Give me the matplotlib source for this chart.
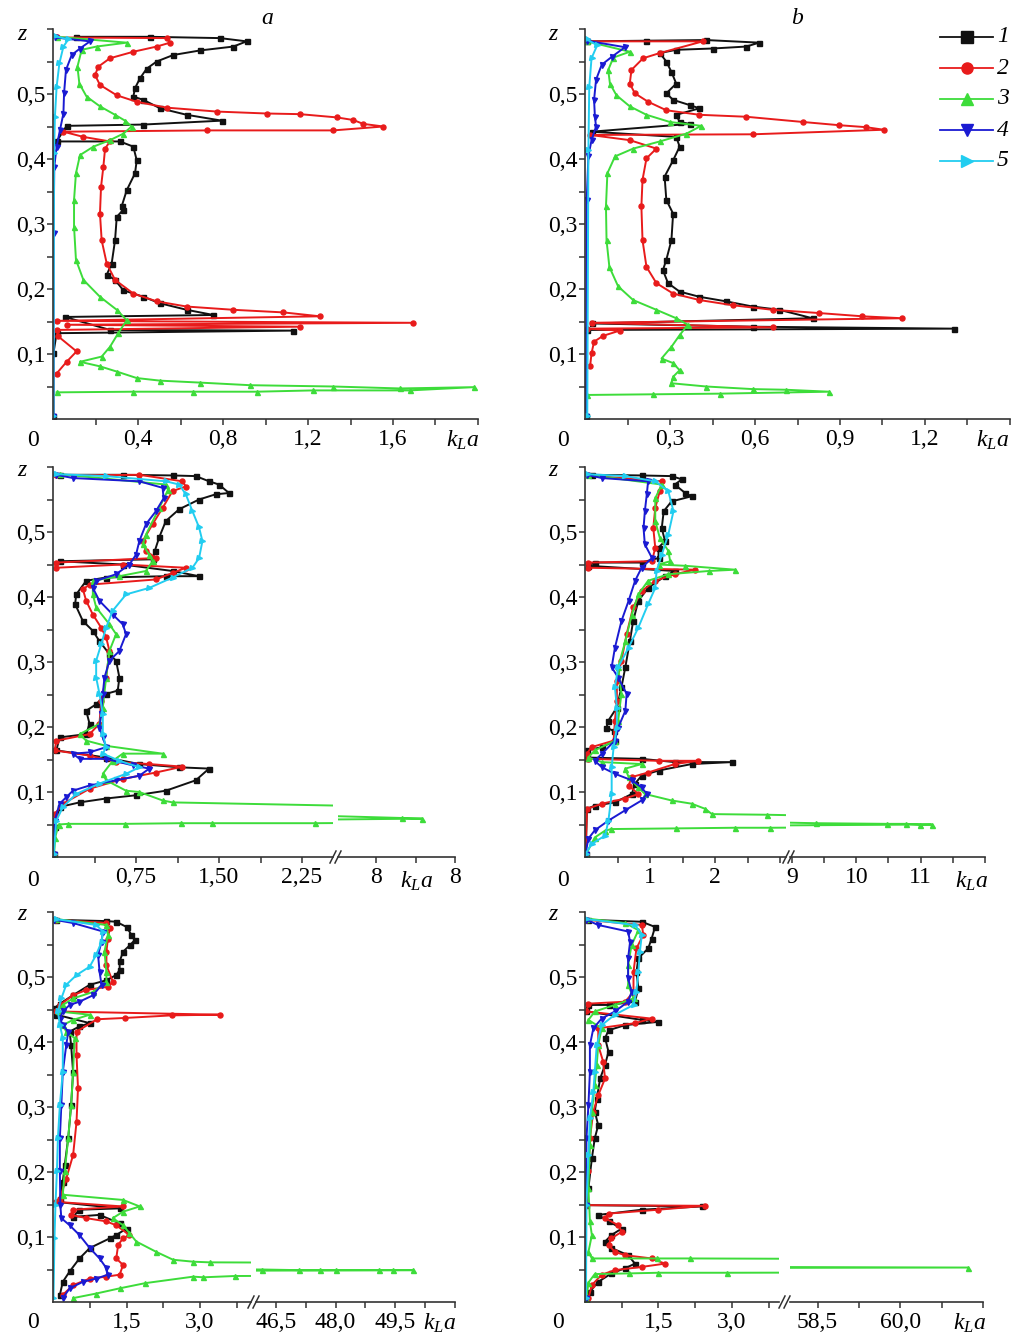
import numpy as np
import matplotlib.pyplot as plt
from matplotlib.lines import Line2D

plt.rcParams['font.family'] = ['Liberation Serif', 'DejaVu Serif']
plt.rcParams['mathtext.fontset'] = 'custom'
plt.rcParams['mathtext.rm'] = 'Liberation Serif'
plt.rcParams['mathtext.it'] = 'Liberation Serif:italic'

# panel a (top left)
a1 = [(0.11, 0.588), (0.456, 0.588), (0.786, 0.586), (0.911, 0.581), (0.849, 0.573), (0.692, 0.567),
      (0.566, 0.560), (0.488, 0.550), (0.441, 0.539), (0.409, 0.524), (0.386, 0.509), (0.378, 0.496),
      (0.425, 0.491), (0.504, 0.478), (0.629, 0.468), (0.794, 0.459), (0.425, 0.453), (0.064, 0.451),
      (0.017, 0.427), (0.315, 0.427), (0.378, 0.419), (0.394, 0.398), (0.386, 0.378), (0.347, 0.352),
      (0.323, 0.327), (0.331, 0.322), (0.300, 0.311), (0.292, 0.275), (0.276, 0.239), (0.253, 0.222),
      (0.292, 0.214), (0.331, 0.198), (0.425, 0.188), (0.504, 0.178), (0.629, 0.168), (0.755, 0.160),
      (0.056, 0.157), (0.268, 0.137), (1.131, 0.136), (0.017, 0.132), (0.002, 0.101), (0.002, 0.004)]
a2 = [(0.017, 0.587), (0.535, 0.586), (0.551, 0.579), (0.488, 0.573), (0.378, 0.565), (0.268, 0.555),
      (0.213, 0.542), (0.198, 0.529), (0.221, 0.514), (0.300, 0.498), (0.394, 0.488), (0.535, 0.479),
      (0.770, 0.473), (1.005, 0.470), (1.162, 0.469), (1.335, 0.464), (1.413, 0.460), (1.460, 0.454),
      (1.555, 0.450), (1.319, 0.444), (0.723, 0.444), (0.049, 0.442), (0.143, 0.434), (0.268, 0.427),
      (0.245, 0.416), (0.237, 0.388), (0.226, 0.357), (0.221, 0.316), (0.229, 0.275), (0.253, 0.239),
      (0.292, 0.214), (0.378, 0.193), (0.488, 0.181), (0.629, 0.173), (0.849, 0.168), (1.084, 0.164),
      (1.256, 0.158), (0.017, 0.151), (1.696, 0.148), (0.064, 0.145), (1.162, 0.142), (0.017, 0.137),
      (0.025, 0.127), (0.111, 0.104), (0.064, 0.088), (0.017, 0.070)]
a3 = [(0.017, 0.588), (0.347, 0.579), (0.205, 0.573), (0.135, 0.568), (0.115, 0.542), (0.124, 0.516),
      (0.158, 0.496), (0.221, 0.481), (0.292, 0.468), (0.339, 0.459), (0.370, 0.450), (0.331, 0.439),
      (0.268, 0.429), (0.190, 0.419), (0.127, 0.406), (0.108, 0.378), (0.099, 0.337), (0.099, 0.296),
      (0.108, 0.245), (0.143, 0.214), (0.221, 0.188), (0.300, 0.168), (0.347, 0.152), (0.307, 0.132),
      (0.268, 0.111), (0.229, 0.096), (0.127, 0.088), (0.221, 0.081), (0.300, 0.073), (0.394, 0.063),
      (0.504, 0.059), (0.692, 0.056), (0.927, 0.052), (1.319, 0.050), (1.633, 0.047), (1.98, 0.049),
      (1.680, 0.044), (1.225, 0.044), (0.958, 0.042), (0.660, 0.042), (0.378, 0.042), (0.017, 0.041)]
a4 = [(0.009, 0.587), (0.174, 0.581), (0.127, 0.570), (0.088, 0.560), (0.061, 0.537), (0.052, 0.501),
      (0.049, 0.470), (0.033, 0.445), (0.017, 0.419), (0.006, 0.388), (0.003, 0.286), (0.002, 0.004)]
a5 = [(0.009, 0.589), (0.072, 0.584), (0.049, 0.573), (0.030, 0.547), (0.017, 0.511), (0.009, 0.465),
      (0.005, 0.409), (0.002, 0.004)]

# panel b (top right)
b1 = [(0.006, 0.581), (0.217, 0.582), (0.428, 0.583), (0.615, 0.579), (0.569, 0.573), (0.451, 0.570),
      (0.322, 0.568), (0.264, 0.563), (0.287, 0.550), (0.305, 0.534), (0.322, 0.516), (0.287, 0.501),
      (0.311, 0.491), (0.369, 0.483), (0.404, 0.478), (0.322, 0.468), (0.334, 0.457), (0.369, 0.454),
      (0.023, 0.442), (0.322, 0.434), (0.334, 0.419), (0.311, 0.398), (0.281, 0.373), (0.287, 0.337),
      (0.311, 0.316), (0.305, 0.275), (0.287, 0.245), (0.275, 0.229), (0.293, 0.209), (0.334, 0.196),
      (0.404, 0.188), (0.498, 0.181), (0.592, 0.173), (0.686, 0.168), (0.803, 0.155), (0.023, 0.147),
      (0.592, 0.142), (1.301, 0.139), (0.006, 0.137), (0.004, 0.004)]
b2 = [(0.006, 0.581), (0.416, 0.581), (0.264, 0.563), (0.205, 0.555), (0.164, 0.537), (0.158, 0.516),
      (0.176, 0.501), (0.223, 0.488), (0.287, 0.475), (0.404, 0.468), (0.569, 0.465), (0.768, 0.457),
      (0.897, 0.452), (0.991, 0.449), (1.055, 0.445), (0.592, 0.438), (0.018, 0.437), (0.158, 0.429),
      (0.252, 0.416), (0.217, 0.401), (0.203, 0.368), (0.199, 0.327), (0.203, 0.275), (0.217, 0.234),
      (0.252, 0.209), (0.311, 0.193), (0.404, 0.183), (0.522, 0.175), (0.662, 0.168), (0.826, 0.163),
      (0.979, 0.158), (1.120, 0.155), (0.023, 0.148), (0.662, 0.141), (0.006, 0.139), (0.123, 0.136),
      (0.064, 0.128), (0.032, 0.119), (0.023, 0.101), (0.018, 0.081)]
b3 = [(0.006, 0.581), (0.158, 0.565), (0.100, 0.556), (0.082, 0.537), (0.088, 0.516), (0.111, 0.498),
      (0.158, 0.481), (0.217, 0.468), (0.299, 0.457), (0.410, 0.451), (0.358, 0.439), (0.264, 0.427),
      (0.170, 0.416), (0.106, 0.404), (0.079, 0.378), (0.074, 0.327), (0.076, 0.275), (0.086, 0.234),
      (0.117, 0.204), (0.170, 0.183), (0.252, 0.168), (0.322, 0.155), (0.363, 0.145), (0.334, 0.129),
      (0.305, 0.111), (0.270, 0.093), (0.311, 0.086), (0.334, 0.075), (0.311, 0.065), (0.305, 0.055),
      (0.428, 0.050), (0.592, 0.046), (0.709, 0.045), (0.862, 0.042), (0.475, 0.039), (0.240, 0.038),
      (0.006, 0.037)]
b4 = [(0.006, 0.582), (0.141, 0.572), (0.094, 0.557), (0.059, 0.545), (0.039, 0.522), (0.032, 0.491),
      (0.035, 0.465), (0.039, 0.450), (0.023, 0.429), (0.012, 0.404), (0.006, 0.337), (0.004, 0.004)]
b5 = [(0.006, 0.584), (0.043, 0.575), (0.023, 0.555), (0.015, 0.511), (0.012, 0.414), (0.008, 0.004)]

# panel c (middle left, broken axis)
c1 = [(0.06, 0.588), (0.63, 0.588), (1.08, 0.587), (1.29, 0.586), (1.41, 0.578), (1.50, 0.573),
      (1.59, 0.560), (1.47, 0.558), (1.32, 0.550), (1.14, 0.535), (1.02, 0.517), (0.96, 0.492),
      (0.92, 0.471), (0.90, 0.458), (0.06, 0.455), (0.63, 0.450), (1.08, 0.440), (1.32, 0.432),
      (1.02, 0.432), (0.48, 0.430), (0.30, 0.425), (0.21, 0.404), (0.20, 0.389), (0.27, 0.363),
      (0.36, 0.348), (0.42, 0.332), (0.51, 0.312), (0.57, 0.302), (0.60, 0.276), (0.585, 0.256),
      (0.48, 0.251), (0.39, 0.235), (0.30, 0.225), (0.33, 0.205), (0.30, 0.189), (0.06, 0.184),
      (0.03, 0.164), (0.48, 0.153), (0.78, 0.143), (1.14, 0.138), (1.41, 0.136), (1.29, 0.118),
      (1.02, 0.102), (0.75, 0.095), (0.48, 0.090), (0.24, 0.084), (0.06, 0.077), (0.015, 0.046),
      (0.006, 0.005)]
c2 = [(0.03, 0.587), (0.78, 0.588), (1.17, 0.578), (1.20, 0.570), (1.08, 0.563), (0.99, 0.537),
      (0.90, 0.512), (0.81, 0.486), (0.84, 0.471), (0.93, 0.460), (0.03, 0.453), (0.03, 0.445),
      (0.63, 0.450), (1.20, 0.445), (1.08, 0.437), (0.93, 0.427), (0.33, 0.419), (0.27, 0.412),
      (0.30, 0.394), (0.36, 0.373), (0.435, 0.353), (0.48, 0.338), (0.51, 0.317), (0.48, 0.276),
      (0.435, 0.240), (0.42, 0.205), (0.33, 0.189), (0.03, 0.179), (0.015, 0.164), (0.33, 0.156),
      (0.57, 0.146), (0.87, 0.143), (1.17, 0.139), (0.93, 0.130), (0.63, 0.120), (0.33, 0.105),
      (0.09, 0.082), (0.015, 0.066), (0.006, 0.005)]
c3 = [(0.06, 0.589), (1.02, 0.573), (1.04, 0.565), (0.96, 0.537), (0.84, 0.496), (0.81, 0.481),
      (0.87, 0.465), (0.90, 0.455), (0.84, 0.440), (0.60, 0.432), (0.36, 0.425), (0.36, 0.404),
      (0.39, 0.384), (0.51, 0.358), (0.57, 0.343), (0.51, 0.317), (0.48, 0.276), (0.45, 0.230),
      (0.42, 0.205), (0.24, 0.189), (0.30, 0.179), (0.48, 0.171), (0.99, 0.159), (0.63, 0.159),
      (0.54, 0.148), (0.45, 0.128), (0.48, 0.118), (0.66, 0.102), (0.78, 0.100), (0.99, 0.087),
      (1.08, 0.084), (8.33, 0.060), (8.58, 0.059), (2.37, 0.052), (1.44, 0.052), (1.16, 0.052),
      (0.65, 0.051), (0.135, 0.051), (0.05, 0.050), (0.02, 0.030), (0.01, 0.005)]
c4 = [(0.03, 0.588), (0.18, 0.583), (0.78, 0.578), (0.99, 0.568), (1.00, 0.552), (0.93, 0.532),
      (0.84, 0.512), (0.78, 0.486), (0.75, 0.465), (0.69, 0.450), (0.57, 0.435), (0.39, 0.425),
      (0.36, 0.414), (0.42, 0.394), (0.54, 0.373), (0.63, 0.358), (0.66, 0.343), (0.60, 0.317),
      (0.51, 0.302), (0.465, 0.276), (0.45, 0.251), (0.435, 0.220), (0.42, 0.199), (0.45, 0.184),
      (0.48, 0.169), (0.33, 0.161), (0.18, 0.159), (0.24, 0.151), (0.48, 0.151), (0.72, 0.141),
      (0.87, 0.136), (0.78, 0.125), (0.57, 0.118), (0.33, 0.110), (0.18, 0.102), (0.12, 0.092),
      (0.06, 0.082), (0.015, 0.056), (0.006, 0.005)]
c5 = [(0.03, 0.589), (0.48, 0.586), (1.02, 0.578), (1.14, 0.573), (1.20, 0.558), (1.26, 0.532),
      (1.32, 0.507), (1.35, 0.486), (1.32, 0.460), (1.26, 0.445), (1.08, 0.430), (0.87, 0.414),
      (0.66, 0.404), (0.54, 0.379), (0.48, 0.353), (0.435, 0.327), (0.39, 0.302), (0.39, 0.276),
      (0.42, 0.251), (0.45, 0.220), (0.45, 0.189), (0.48, 0.169), (0.45, 0.159), (0.60, 0.148),
      (0.78, 0.138), (0.66, 0.128), (0.42, 0.113), (0.21, 0.097), (0.09, 0.077), (0.03, 0.056),
      (0.006, 0.005)]

# panel d (middle right, broken axis)
d1 = [(0.10, 0.588), (0.87, 0.587), (1.33, 0.586), (1.49, 0.581), (1.38, 0.573), (1.54, 0.560),
      (1.64, 0.555), (1.33, 0.547), (1.21, 0.532), (1.18, 0.506), (1.23, 0.486), (1.13, 0.476),
      (1.13, 0.460), (0.87, 0.453), (0.15, 0.453), (0.05, 0.448), (1.38, 0.440), (1.23, 0.432),
      (0.97, 0.414), (0.82, 0.394), (0.74, 0.363), (0.69, 0.332), (0.62, 0.292), (0.56, 0.261),
      (0.49, 0.230), (0.36, 0.210), (0.33, 0.199), (0.44, 0.194), (0.46, 0.179), (0.26, 0.169),
      (0.03, 0.164), (0.03, 0.153), (0.87, 0.151), (1.38, 0.146), (2.26, 0.146), (1.64, 0.143),
      (1.13, 0.133), (0.87, 0.125), (0.77, 0.113), (0.72, 0.097), (0.46, 0.084), (0.15, 0.079),
      (0.03, 0.074), (0.01, 0.005)]
d2 = [(0.05, 0.587), (1.18, 0.578), (1.15, 0.563), (1.08, 0.537), (1.05, 0.506), (1.08, 0.476),
      (1.03, 0.455), (0.05, 0.453), (0.05, 0.445), (1.69, 0.442), (1.38, 0.435), (1.08, 0.425),
      (0.87, 0.409), (0.74, 0.384), (0.64, 0.343), (0.56, 0.302), (0.49, 0.271), (0.49, 0.240),
      (0.46, 0.210), (0.44, 0.179), (0.10, 0.169), (0.03, 0.159), (0.05, 0.151), (1.13, 0.148),
      (1.74, 0.148), (1.38, 0.143), (0.97, 0.130), (0.72, 0.123), (0.67, 0.110), (0.82, 0.097),
      (0.62, 0.090), (0.26, 0.082), (0.03, 0.074), (0.01, 0.005)]
d3 = [(0.05, 0.588), (1.18, 0.573), (1.08, 0.552), (1.08, 0.517), (1.15, 0.491), (1.28, 0.471),
      (1.31, 0.455), (1.13, 0.450), (1.54, 0.448), (2.31, 0.442), (1.90, 0.440), (1.28, 0.435),
      (0.97, 0.425), (0.82, 0.404), (0.72, 0.373), (0.62, 0.332), (0.51, 0.292), (0.56, 0.251),
      (0.51, 0.210), (0.46, 0.179), (0.15, 0.164), (0.05, 0.153), (0.26, 0.146), (0.87, 0.143),
      (0.62, 0.136), (0.67, 0.123), (0.82, 0.107), (0.92, 0.097), (1.33, 0.087), (1.64, 0.082),
      (1.85, 0.074), (1.95, 0.066), (2.80, 0.065), (9.37, 0.052), (10.48, 0.051), (10.78, 0.051),
      (10.99, 0.050), (11.17, 0.050), (2.85, 0.045), (2.30, 0.045), (1.40, 0.044), (0.40, 0.043),
      (0.30, 0.040), (0.15, 0.030), (0.02, 0.005)]
d4 = [(0.03, 0.588), (0.26, 0.583), (0.97, 0.578), (0.95, 0.558), (0.92, 0.532), (0.90, 0.506),
      (0.92, 0.481), (1.03, 0.460), (0.87, 0.445), (0.77, 0.425), (0.67, 0.394), (0.56, 0.363),
      (0.46, 0.322), (0.41, 0.292), (0.51, 0.276), (0.64, 0.251), (0.62, 0.225), (0.51, 0.199),
      (0.46, 0.179), (0.26, 0.159), (0.15, 0.148), (0.26, 0.138), (0.46, 0.128), (0.72, 0.118),
      (0.87, 0.107), (0.95, 0.097), (0.87, 0.087), (0.62, 0.072), (0.36, 0.056), (0.15, 0.041),
      (0.05, 0.028), (0.01, 0.005)]
d5 = [(0.03, 0.589), (0.62, 0.586), (1.08, 0.578), (1.28, 0.563), (1.36, 0.532), (1.28, 0.496),
      (1.18, 0.465), (1.10, 0.440), (1.08, 0.414), (0.97, 0.389), (0.82, 0.353), (0.67, 0.322),
      (0.51, 0.292), (0.46, 0.261), (0.49, 0.230), (0.49, 0.199), (0.44, 0.169), (0.41, 0.138),
      (0.41, 0.097), (0.36, 0.056), (0.31, 0.033), (0.10, 0.020), (0.01, 0.005)]

# panel e (bottom left, broken axis)
e1 = [(0.07, 0.588), (1.09, 0.586), (1.29, 0.585), (1.50, 0.577), (1.60, 0.565), (1.67, 0.557),
      (1.57, 0.549), (1.43, 0.539), (1.36, 0.524), (1.36, 0.511), (1.29, 0.503), (1.09, 0.495),
      (0.75, 0.488), (0.41, 0.472), (0.14, 0.459), (0.03, 0.452), (0.07, 0.442), (0.75, 0.429),
      (0.54, 0.424), (0.34, 0.416), (0.37, 0.395), (0.41, 0.354), (0.37, 0.303), (0.31, 0.252),
      (0.24, 0.211), (0.20, 0.185), (0.14, 0.159), (0.07, 0.154), (1.36, 0.144), (0.54, 0.142),
      (0.41, 0.131), (0.95, 0.134), (1.36, 0.121), (1.50, 0.113), (1.29, 0.103), (1.16, 0.098),
      (0.75, 0.083), (0.54, 0.067), (0.34, 0.047), (0.20, 0.031), (0.14, 0.011)]
e2 = [(0.07, 0.588), (1.09, 0.583), (1.16, 0.575), (1.12, 0.559), (1.09, 0.539), (1.09, 0.518),
      (1.22, 0.493), (1.12, 0.485), (0.68, 0.480), (0.41, 0.472), (0.14, 0.457), (0.07, 0.447),
      (3.40, 0.442), (2.43, 0.441), (1.47, 0.437), (0.90, 0.435), (0.48, 0.416), (0.48, 0.380),
      (0.51, 0.329), (0.48, 0.277), (0.41, 0.226), (0.27, 0.190), (0.14, 0.159), (0.07, 0.154),
      (1.43, 0.147), (0.41, 0.142), (0.37, 0.134), (0.68, 0.129), (1.09, 0.124), (1.29, 0.118),
      (1.56, 0.103), (1.43, 0.098), (1.33, 0.088), (1.29, 0.067), (1.43, 0.057), (1.36, 0.042),
      (1.09, 0.039), (0.75, 0.036), (0.41, 0.026), (0.20, 0.011)]
e3 = [(0.07, 0.589), (1.09, 0.580), (1.12, 0.565), (1.05, 0.539), (1.09, 0.508), (1.09, 0.493),
      (0.82, 0.477), (0.41, 0.467), (0.20, 0.457), (0.10, 0.447), (0.75, 0.442), (0.41, 0.434),
      (0.20, 0.426), (0.27, 0.416), (0.44, 0.406), (0.41, 0.354), (0.37, 0.303), (0.31, 0.252),
      (0.24, 0.201), (0.20, 0.165), (1.43, 0.157), (1.77, 0.147), (1.43, 0.139), (1.22, 0.129),
      (1.43, 0.118), (1.56, 0.106), (1.70, 0.093), (2.11, 0.077), (2.45, 0.065), (2.86, 0.062),
      (3.20, 0.061), (46.15, 0.050), (47.08, 0.049), (47.60, 0.049), (48.00, 0.049), (49.08, 0.049),
      (49.45, 0.049), (49.95, 0.049), (3.71, 0.040), (3.07, 0.038), (2.86, 0.039), (1.88, 0.029),
      (1.36, 0.021), (0.88, 0.013), (0.41, 0.006)]
e4 = [(0.03, 0.588), (0.41, 0.583), (1.02, 0.570), (0.99, 0.554), (0.92, 0.534), (0.95, 0.508),
      (0.99, 0.488), (0.82, 0.472), (0.54, 0.462), (0.34, 0.457), (0.20, 0.447), (0.14, 0.436),
      (0.20, 0.426), (0.31, 0.416), (0.27, 0.395), (0.20, 0.354), (0.17, 0.303), (0.14, 0.252),
      (0.14, 0.201), (0.15, 0.149), (0.17, 0.129), (0.34, 0.118), (0.54, 0.103), (0.75, 0.083),
      (0.95, 0.067), (1.09, 0.052), (1.12, 0.042), (0.88, 0.036), (0.61, 0.031), (0.34, 0.021),
      (0.20, 0.006)]
e5 = [(0.07, 0.589), (0.88, 0.580), (1.02, 0.570), (0.99, 0.554), (0.88, 0.534), (0.75, 0.516),
      (0.48, 0.503), (0.27, 0.488), (0.17, 0.467), (0.10, 0.447), (0.14, 0.426), (0.20, 0.406),
      (0.20, 0.354), (0.14, 0.303), (0.10, 0.252), (0.08, 0.201), (0.05, 0.149), (0.03, 0.098),
      (0.01, 0.006)]

# panel f (bottom right, broken axis)
f1 = [(0.07, 0.588), (1.16, 0.585), (1.43, 0.577), (1.36, 0.559), (1.29, 0.544), (1.09, 0.529),
      (1.05, 0.508), (1.09, 0.483), (1.02, 0.462), (0.48, 0.457), (0.07, 0.457), (0.03, 0.447),
      (1.16, 0.434), (1.50, 0.431), (0.82, 0.426), (0.48, 0.418), (0.41, 0.406), (0.48, 0.385),
      (0.41, 0.365), (0.31, 0.344), (0.24, 0.313), (0.20, 0.293), (0.27, 0.272), (0.20, 0.252),
      (0.14, 0.221), (0.07, 0.175), (0.03, 0.149), (2.38, 0.147), (1.16, 0.142), (0.27, 0.134),
      (0.48, 0.124), (0.75, 0.113), (0.54, 0.103), (0.41, 0.093), (0.54, 0.083), (0.88, 0.072),
      (1.02, 0.059), (0.82, 0.052), (0.54, 0.044), (0.27, 0.031), (0.10, 0.016), (0.03, 0.003)]
f2 = [(0.03, 0.588), (1.16, 0.580), (1.19, 0.565), (1.05, 0.544), (0.99, 0.508), (0.99, 0.477),
      (0.82, 0.462), (0.07, 0.459), (0.03, 0.447), (1.36, 0.436), (1.02, 0.429), (0.27, 0.421),
      (0.27, 0.395), (0.37, 0.370), (0.41, 0.344), (0.27, 0.318), (0.17, 0.293), (0.10, 0.252),
      (0.07, 0.201), (0.03, 0.149), (2.45, 0.148), (1.50, 0.142), (0.48, 0.136), (0.41, 0.129),
      (0.68, 0.118), (0.75, 0.108), (0.54, 0.098), (0.48, 0.088), (0.61, 0.077), (0.82, 0.072),
      (1.36, 0.067), (1.63, 0.059), (1.16, 0.054), (0.61, 0.049), (0.34, 0.042), (0.14, 0.026),
      (0.07, 0.006)]
f3 = [(0.03, 0.590), (0.82, 0.583), (1.09, 0.572), (0.95, 0.549), (0.88, 0.518), (0.88, 0.488),
      (0.99, 0.467), (0.61, 0.457), (0.20, 0.447), (0.07, 0.434), (0.34, 0.421), (0.27, 0.395),
      (0.24, 0.365), (0.20, 0.334), (0.14, 0.293), (0.10, 0.242), (0.07, 0.175), (0.10, 0.124),
      (0.14, 0.103), (0.07, 0.077), (0.14, 0.067), (1.47, 0.067), (2.14, 0.067), (61.23, 0.053),
      (2.90, 0.045), (1.50, 0.045), (0.90, 0.044), (0.20, 0.043), (0.07, 0.030), (0.03, 0.005)]
f4 = [(0.03, 0.588), (0.27, 0.580), (0.88, 0.570), (0.92, 0.554), (0.88, 0.529), (0.88, 0.498),
      (0.95, 0.477), (0.88, 0.462), (0.61, 0.447), (0.34, 0.436), (0.17, 0.421), (0.10, 0.395),
      (0.10, 0.354), (0.07, 0.303), (0.03, 0.252), (0.02, 0.149), (0.02, 0.006)]
f5 = [(0.03, 0.589), (1.02, 0.580), (1.16, 0.565), (1.12, 0.539), (1.09, 0.508), (1.05, 0.477),
      (0.99, 0.457), (0.61, 0.442), (0.34, 0.426), (0.24, 0.395), (0.20, 0.354), (0.17, 0.323),
      (0.10, 0.283), (0.07, 0.226), (0.03, 0.149), (0.02, 0.006)]

colors = ['#111111', '#e81b1b', '#3ddc3a', '#1a1ad2', '#22cdf0']
markers = ['s', 'o', '^', 'v', '>']
legend_names = ['1', '2', '3', '4', '5']

W, H = 1015, 1341
fig = plt.figure(figsize=(W / 100, H / 100), dpi=100)
FS = 17


def px(x, y):
    return x / W, 1 - y / H


def add_ax(x0, x1, y0, y1):
    return fig.add_axes([x0 / W, 1 - y1 / H, (x1 - x0) / W, (y1 - y0) / H])


def draw_curves(ax, series):
    for pts, c, m in zip(series, colors, markers):
        k = [p[0] for p in pts]
        z = [p[1] for p in pts]
        ax.plot(k, z, color=c, lw=1.4, marker=m, ms=3.6, mec=c, mfc=c)


yt = np.arange(0.05, 0.601, 0.05)
ylab = ['', '0,1', '', '0,2', '', '0,3', '', '0,4', '', '0,5', '', '']

# each panel: curves, y pixel range, segments (x pixel range, xlim, ticks, labels)
panels = [
    ([a1, a2, a3, a4, a5], (29, 419),
     [((53, 478), (0, 2.0), np.arange(0.2, 2.01, 0.2),
       ['', '0,4', '', '0,8', '', '1,2', '', '1,6', '', ''])]),
    ([b1, b2, b3, b4, b5], (29, 419),
     [((585, 1010), (0, 1.5), np.arange(0.15, 1.51, 0.15),
       ['', '0,3', '', '0,6', '', '0,9', '', '1,2', '', ''])]),
    ([c1, c2, c3, c4, c5], (467, 857),
     [((53, 333), (0, 2.53), np.arange(0.375, 2.3, 0.375), ['', '0,75', '', '1,50', '', '2,25']),
      ((338, 455), (7.51, 9.0), [8.0, 8.5, 9.0], ['8', '', '8'])]),
    ([d1, d2, d3, d4, d5], (467, 857),
     [((585, 786), (0, 3.09), np.arange(0.5, 3.01, 0.5), ['', '1', '', '2', '', '']),
      ((790, 985), (8.97, 12.0), np.arange(9.0, 12.01, 0.5), ['9', '', '10', '', '11', '', ''])]),
    ([e1, e2, e3, e4, e5], (912, 1302),
     [((53, 251), (0, 4.04), np.arange(0.75, 3.8, 0.75), ['', '1,5', '', '3,0', '']),
      ((256, 455), (46.0, 51.0), np.arange(46.5, 51.01, 0.75), ['46,5', '', '48,0', '', '49,5', '', ''])]),
    ([f1, f2, f3, f4, f5], (912, 1302),
     [((585, 779), (0, 3.96), np.arange(0.75, 3.8, 0.75), ['', '1,5', '', '3,0', '']),
      ((790, 983), (58.0, 61.5), np.arange(58.5, 61.51, 0.75), ['58,5', '', '60,0', '', ''])]),
]

for series, (y0, y1), segs in panels:
    for i, ((x0, x1), xl, ticks, labels) in enumerate(segs):
        ax = add_ax(x0, x1, y0, y1)
        draw_curves(ax, series)
        ax.set_xlim(*xl)
        ax.set_ylim(0, 0.6)
        ax.patch.set_alpha(0)
        for s in ['top', 'right']:
            ax.spines[s].set_visible(False)
        for s in ['left', 'bottom']:
            ax.spines[s].set_color('#333333')
            ax.spines[s].set_linewidth(1.2)
        ax.set_xticks(ticks, labels)
        ax.tick_params(axis='x', direction='out', length=4, width=1.1, color='#333333',
                       labelsize=FS, pad=3.5)
        if i == 0:
            ax.set_yticks(yt, ylab)
            ax.tick_params(axis='y', direction='out', length=4, width=1.1, color='#333333',
                           labelsize=FS, pad=1.5)
        else:
            ax.spines['left'].set_visible(False)
            ax.tick_params(axis='y', left=False, labelleft=False)

# break marks on the broken axes
for xb, yb in [(333, 857), (786, 857), (251, 1302), (782, 1302)]:
    for dx in (0, 5):
        fig.add_artist(Line2D([(xb - 3 + dx) / W, (xb + 3 + dx) / W],
                              [1 - (yb + 6) / H, 1 - (yb - 6) / H], color='#333333', lw=1.1))

# corner zeros, z labels and k_L a labels
for x, y in [(33, 440), (563, 440), (33, 881), (563, 881), (33, 1323), (558, 1323)]:
    fig.text(*px(x, y), '0', ha='center', va='center', fontsize=FS)
for x, y in [(22, 34), (553, 34), (22, 471), (553, 471), (22, 915), (553, 915)]:
    fig.text(*px(x, y), 'z', ha='center', va='center', fontsize=FS, style='italic')
for x, y in [(463, 440), (993, 440), (417, 881), (972, 881), (440, 1323), (970, 1323)]:
    fig.text(*px(x, y), r'$k_La$', ha='center', va='center', fontsize=FS)

fig.text(*px(267, 18), 'a', ha='center', va='center', fontsize=FS, style='italic')
fig.text(*px(797, 18), 'b', ha='center', va='center', fontsize=FS, style='italic')

# legend of panel b, drawn by hand
for i, (c, m, name) in enumerate(zip(colors, markers, legend_names)):
    y = [37, 68, 99, 130, 161][i]
    fig.add_artist(Line2D([940 / W, 993 / W], [1 - y / H] * 2, color=c, lw=1.3))
    fig.add_artist(Line2D([967 / W], [1 - y / H], color=c, marker=m, ms=8, mec=c, mfc=c))
    fig.text(*px(1003, y), name, ha='center', va='center', fontsize=FS, style='italic')

fig.savefig('out.png', dpi=100)
